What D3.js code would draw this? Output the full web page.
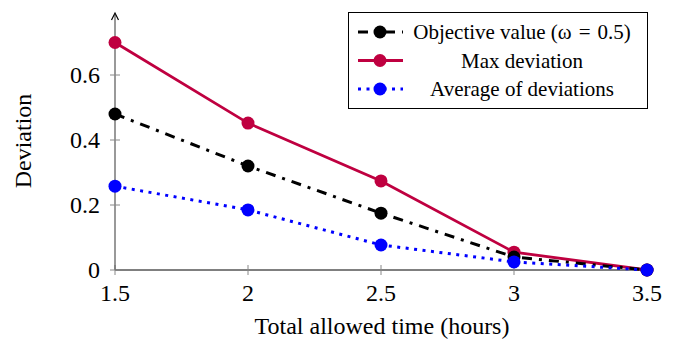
<!DOCTYPE html>
<html>
<head>
<meta charset="utf-8">
<script src="https://cdn.jsdelivr.net/npm/d3@7"></script>
<style>
  body { margin: 0; background: #fff; }
  text { font-family: "Liberation Serif", "Times New Roman", serif; }
</style>
</head>
<body>
<div id="chart"></div>
<script>
// data
const hours = [1.5, 2, 2.5, 3, 3.5];
const objective = [0.48, 0.32, 0.175, 0.04, 0];
const maxDev = [0.70, 0.452, 0.274, 0.055, 0];
const avgDev = [0.258, 0.185, 0.077, 0.025, 0];
const xTicks = [1.5, 2, 2.5, 3, 3.5];
const yTicks = [0, 0.2, 0.4, 0.6];

const series = [
  {name: "Objective value (\u03c9\u2004=\u20040.5)", values: objective, color: "#000", dash: "10,7,3,7", width: 3},
  {name: "Max deviation", values: maxDev, color: "#bf0040", dash: null, width: 2.8},
  {name: "Average of deviations", values: avgDev, color: "#0000ff", dash: "3,5.5", width: 3}
];

const W = 680, H = 339;
const svg = d3.select("#chart").append("svg")
  .attr("width", W).attr("height", H);

const x = d3.scaleLinear().domain([1.5, 3.5]).range([115, 647]);
const y = d3.scaleLinear().domain([0, 0.6]).range([270, 75]);

// axes
const gx = svg.append("g").attr("transform", `translate(0,${y(0)})`);
gx.append("line").attr("x1", x(1.5)).attr("x2", x(3.5))
  .attr("stroke", "#000").attr("stroke-width", 1);
gx.selectAll(".tick").data(xTicks).enter().append("line")
  .attr("x1", d => x(d)).attr("x2", d => x(d))
  .attr("y1", -5).attr("y2", 5)
  .attr("stroke", "#888").attr("stroke-width", 1);
gx.selectAll(".lbl").data(xTicks).enter().append("text")
  .attr("x", d => x(d)).attr("y", 31)
  .attr("text-anchor", "middle")
  .style("font-size", "24px")
  .text(d => d);

const gy = svg.append("g").attr("transform", `translate(${x(1.5)},0)`);
gy.append("line").attr("y1", y(0)).attr("y2", 15)
  .attr("stroke", "#555").attr("stroke-width", 1.2);
gy.append("path")
  .attr("d", "M-3.5,20 L0,13 L3.5,20")
  .attr("fill", "none").attr("stroke", "#000").attr("stroke-width", 1.2);
gy.selectAll(".tick").data(yTicks).enter().append("line")
  .attr("y1", d => y(d)).attr("y2", d => y(d))
  .attr("x1", -5).attr("x2", 5)
  .attr("stroke", "#888").attr("stroke-width", 1);
gy.selectAll(".lbl").data(yTicks).enter().append("text")
  .attr("x", -15).attr("y", d => y(d) + 8)
  .attr("text-anchor", "end")
  .style("font-size", "24px")
  .text(d => d);

// axis titles
svg.append("text")
  .attr("x", 382).attr("y", 334)
  .attr("text-anchor", "middle")
  .style("font-size", "24px")
  .text("Total allowed time (hours)");
svg.append("text")
  .attr("transform", `translate(31,141) rotate(-90)`)
  .attr("text-anchor", "middle")
  .style("font-size", "24px")
  .text("Deviation");

// lines and markers
const line = d3.line().x((d, i) => x(hours[i])).y(d => y(d));
const drawOrder = [1, 0, 2];
drawOrder.forEach(k => {
  const s = series[k];
  svg.append("path")
    .datum(s.values)
    .attr("fill", "none")
    .attr("stroke", s.color)
    .attr("stroke-width", s.width)
    .attr("stroke-dasharray", s.dash)
    .attr("d", line);
});
drawOrder.forEach(k => {
  const s = series[k];
  svg.append("g").selectAll("circle").data(s.values).enter().append("circle")
    .attr("cx", (d, i) => x(hours[i]))
    .attr("cy", d => y(d))
    .attr("r", 6.5)
    .attr("fill", s.color);
});

// legend
const lg = svg.append("g");
lg.append("rect")
  .attr("x", 348.5).attr("y", 12.5).attr("width", 299).attr("height", 96)
  .attr("fill", "#fff").attr("stroke", "#000").attr("stroke-width", 1);
series.forEach((s, i) => {
  const ly = 32 + i * 28.5;
  lg.append("line")
    .attr("x1", 358).attr("x2", 403).attr("y1", ly).attr("y2", ly)
    .attr("stroke", s.color).attr("stroke-width", s.width)
    .attr("stroke-dasharray", s.dash);
  lg.append("circle").attr("cx", 380).attr("cy", ly).attr("r", 6.5).attr("fill", s.color);
  lg.append("text")
    .attr("x", 522).attr("y", ly + 7)
    .attr("text-anchor", "middle")
    .style("font-size", "21px")
    .text(s.name);
});
</script>
</body>
</html>
